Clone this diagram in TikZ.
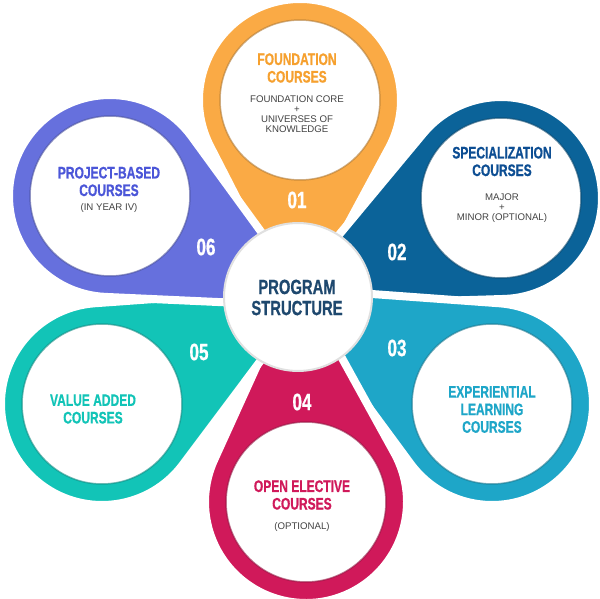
\documentclass[tikz,border=0pt]{standalone}
\usepackage{fontspec}
\setmainfont{Liberation Sans}
\newfontfamily\condfont[FakeStretch=0.72, FakeBold=0.6]{Liberation Sans}
\usepackage{tikz}
\usetikzlibrary{calc}

\definecolor{petalOne}{HTML}{FAAA45}
\definecolor{petalTwo}{HTML}{0B6399}
\definecolor{petalThree}{HTML}{1EA6C8}
\definecolor{petalFour}{HTML}{D0195A}
\definecolor{petalFive}{HTML}{12C4B7}
\definecolor{petalSix}{HTML}{6670DD}
\definecolor{headOne}{HTML}{F6A02E}
\definecolor{headTwo}{HTML}{0D4E93}
\definecolor{headSix}{HTML}{4B56D8}
\definecolor{hubText}{HTML}{1E486E}
\definecolor{noteGray}{HTML}{434343}

\begin{document}
\begin{tikzpicture}[x=0.02cm, y=-0.02cm,
    petal/.style={draw=white, line width=0.16cm, line join=round},
    hole/.style={circle, fill=white, draw=#1!70!black, draw opacity=0.6, line width=0.03cm, minimum size=3.2cm, inner sep=0pt},
    hub/.style={circle, fill=white, draw=black!12, line width=0.04cm, minimum size=2.96cm, inner sep=0pt},
    head/.style={text=#1, align=center, inner sep=0pt, font=\condfont\bfseries\fontsize{9.5}{10}\selectfont},
    note/.style={text=noteGray, align=center, inner sep=0pt, font=\fontsize{5.5}{5.7}\selectfont},
    num/.style={text=white, inner sep=0pt, font=\condfont\bfseries\fontsize{13.5}{14}\selectfont}
]
\useasboundingbox (0,0) rectangle (600,599);
\coordinate (centre) at (298,297);
% teardrop petals: outer circle plus tangents to a tip just past the centre
\foreach \cx/\cy/\col in {300/100/petalOne, 501/198/petalTwo, 492/404/petalThree, 306/502/petalFour, 102/404/petalFive, 110/196/petalSix}{
    \pgfmathsetmacro{\ang}{atan2(297-\cy,298-\cx)}
    \pgfmathsetmacro{\tip}{veclen(298-\cx,297-\cy)+20}
    \pgfmathsetmacro{\half}{asin(101/\tip)}
    \path[fill=\col, petal] ($(\cx,\cy)+(\ang:\tip)$) -- ($(\cx,\cy)+(\ang+90-\half:101)$)
        arc[start angle=\ang+90-\half, delta angle=180+2*\half, radius=101] -- cycle;
}
% white faces
\node[hole=petalOne] (ring1) at (300,100) {};
\node[hole=petalTwo] (ring2) at (501,198) {};
\node[hole=petalThree] (ring3) at (492,404) {};
\node[hole=petalFour] (ring4) at (306,502) {};
\node[hole=petalFive] (ring5) at (102,404) {};
\node[hole=petalSix] (ring6) at (110,196) {};
\node[hub] (hub) at (centre) {};
% texts
\node[head=headOne] (head1) at (297,68) {FOUNDATION\\COURSES};
\node[note] (note1) at (297,114) {FOUNDATION CORE\\+\\UNIVERSES OF\\KNOWLEDGE};
\node[num] (num1) at (297,200) {01};
\node[head=headTwo] (head2) at (502,161.5) {SPECIALIZATION\\COURSES};
\node[note] (note2) at (502,208) {MAJOR\\+\\MINOR (OPTIONAL)};
\node[num] (num2) at (397,252) {02};
\node[head=petalThree] (head3) at (492,409.5) {EXPERIENTIAL\\LEARNING\\COURSES};
\node[num] (num3) at (397,348) {03};
\node[head=petalFour] (head4) at (302,495) {OPEN ELECTIVE\\COURSES};
\node[note] (note4) at (302,527) {(OPTIONAL)};
\node[num] (num4) at (302,402) {04};
\node[head=petalFive] (head5) at (93,409) {VALUE ADDED\\COURSES};
\node[num] (num5) at (199,352) {05};
\node[head=headSix] (head6) at (109,181.5) {PROJECT-BASED\\COURSES};
\node[note] (note6) at (109,208) {(IN YEAR IV)};
\node[num] (num6) at (206,247) {06};
\node[text=hubText, align=center, inner sep=0pt, font=\condfont\bfseries\fontsize{11.7}{12}\selectfont] (title) at (297,297.5) {PROGRAM\\STRUCTURE};
\end{tikzpicture}
\end{document}
